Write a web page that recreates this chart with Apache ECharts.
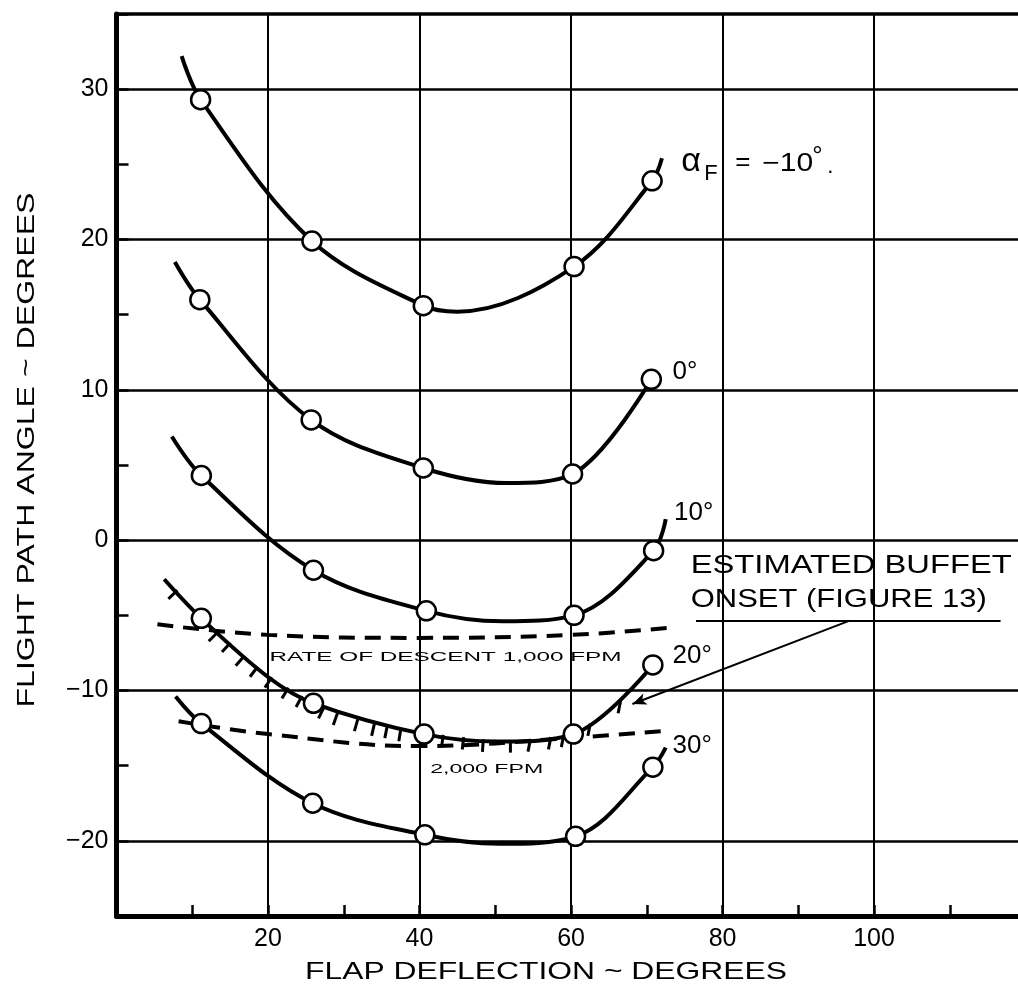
<!DOCTYPE html>
<html>
<head>
<meta charset="utf-8">
<script src="https://cdn.jsdelivr.net/npm/echarts@6/dist/echarts.min.js"></script>
<style>
  html, body { margin: 0; padding: 0; background: #fff; }
  #main { width: 1018px; height: 999px; }
</style>
</head>
<body>
<div id="main"></div>
<script>
// 试验点 (flap deflection, flight path angle)
var ptsM10    = [[11.1, 29.3], [25.8, 19.9], [40.5, 15.6], [60.4, 18.2], [70.7, 23.9]];
var ptsZero   = [[11.0, 16.0], [25.7, 8.0], [40.5, 4.8], [60.2, 4.4], [70.6, 10.7]];
var ptsTen    = [[11.2, 4.3], [26.0, -2.0], [40.9, -4.7], [60.4, -5.0], [70.9, -0.7]];
var ptsTwenty = [[11.2, -5.2], [26.0, -10.85], [40.6, -12.9], [60.3, -12.9], [70.8, -8.3]];
var ptsThirty = [[11.2, -12.2], [25.9, -17.5], [40.7, -19.6], [60.6, -19.7], [70.8, -15.1]];

// faired curves
var curveM10    = [[8.6, 32.2], [11.1, 29.3], [25.8, 19.9], [40.5, 15.6], [45.0, 15.2], [60.4, 18.2], [70.7, 23.9], [72.0, 25.4]];
var curveZero   = [[7.7, 18.5], [11.0, 16.0], [25.7, 8.0], [40.5, 4.8], [51.5, 3.8], [60.2, 4.4], [70.6, 10.7]];
var curveTen    = [[7.3, 6.9], [11.2, 4.3], [26.0, -2.0], [40.9, -4.7], [51.0, -5.4], [60.4, -5.0], [70.9, -0.7], [72.5, 1.4]];
var curveTwenty = [[6.3, -2.6], [11.2, -5.2], [20.0, -9.1], [26.0, -10.85], [40.6, -12.9], [50.5, -13.4], [60.3, -12.9], [70.8, -8.3]];
var curveThirty = [[7.8, -10.4], [11.2, -12.2], [25.9, -17.5], [40.7, -19.6], [50.5, -20.2], [60.6, -19.7], [70.8, -15.1], [72.5, -13.8]];

// rate of descent lines
var descent1000 = [[5.4, -5.6], [20.0, -6.3], [40.0, -6.5], [60.2, -6.3], [73.6, -5.8]];
var descent2000 = [[8.2, -12.05], [20.0, -12.9], [40.0, -13.7], [60.2, -13.15], [72.1, -12.7]];

// buffet onset hatching (points on the 20 deg curve)
var buffetHatch = [[7.9, -3.4], [13.2, -6.2], [14.9, -6.9], [16.7, -7.8], [18.5, -8.5], [20.4, -9.2],
  [22.6, -9.9], [24.4, -10.45], [27.3, -11.2], [29.1, -11.6], [31.8, -12.0], [34.0, -12.3],
  [35.7, -12.45], [37.5, -12.65], [43.1, -13.05], [45.8, -13.2], [48.4, -13.35], [52.0, -13.4],
  [54.6, -13.35], [57.3, -13.2], [59.0, -13.05], [62.5, -12.3], [66.5, -10.8]];

var FONT = '"Liberation Sans", Arial, sans-serif';

var myChart = echarts.init(document.getElementById('main'));

function curve(data) {
  return {
    type: 'line', data: data, smooth: 0.35, showSymbol: false, silent: true,
    lineStyle: { color: '#000', width: 4 }, z: 3
  };
}
function points(data) {
  return {
    type: 'scatter', data: data, symbol: 'circle', symbolSize: 19, silent: true,
    itemStyle: { color: '#fff', borderColor: '#000', borderWidth: 2.5, opacity: 1 }, z: 5
  };
}
function dashed(data) {
  return {
    type: 'line', data: data, smooth: 0.4, showSymbol: false, silent: true,
    lineStyle: { color: '#000', width: 4, type: [16, 10] }, z: 2
  };
}

var twenty = curve(curveTwenty);
twenty.markLine = {
  silent: true, animation: false,
  label: { show: false },
  lineStyle: { color: '#000', width: 2, type: 'solid' },
  data: [
    [{ coord: [76.5, -5.37], symbol: 'none' }, { coord: [116.7, -5.37], symbol: 'none' }],
    [{ coord: [96.7, -5.37], symbol: 'none' }, { coord: [68.1, -10.9], symbol: 'arrow', symbolSize: [9, 14] }]
  ]
};

var option = {
  animation: false,
  backgroundColor: '#fff',
  grid: { left: 116.5, right: 0, top: 14, bottom: 83 },
  xAxis: [{
    type: 'value', min: 0, max: 119, interval: 10,
    axisLine: { show: true, onZero: false, lineStyle: { color: '#000', width: 5 } },
    axisTick: { show: true, inside: true, length: 11, lineStyle: { color: '#000', width: 2.5 } },
    axisLabel: {
      color: '#000', fontSize: 25, fontFamily: FONT, margin: 11, showMaxLabel: false,
      formatter: function (v) { return (v % 20 === 0 && v > 0 && v < 119) ? String(v) : ''; }
    },
    splitLine: { show: true, showMaxLine: false, lineStyle: { color: ['#000', 'transparent'], width: 2 } }
  }, {
    // 上边框
    type: 'value', position: 'top', min: 0, max: 119,
    axisLine: { show: true, onZero: false, lineStyle: { color: '#000', width: 3.5 } },
    axisTick: { show: false }, axisLabel: { show: false }, splitLine: { show: false }
  }],
  yAxis: {
    type: 'value', min: -25, max: 35, interval: 5,
    axisLine: { show: true, onZero: false, lineStyle: { color: '#000', width: 5 } },
    axisTick: { show: true, inside: true, length: 12, lineStyle: { color: '#000', width: 2.5 } },
    axisLabel: {
      color: '#000', fontSize: 25, fontFamily: FONT, margin: 8,
      formatter: function (v) { return v % 10 === 0 ? String(v).replace('-', '\u2212') : ''; }
    },
    splitLine: { show: true, lineStyle: { color: ['transparent', '#000'], width: 2.5 } }
  },
  series: [
    curve(curveM10), curve(curveZero), curve(curveTen), twenty, curve(curveThirty),
    dashed(descent1000), dashed(descent2000),
    {
      type: 'custom', data: buffetHatch, silent: true, z: 3,
      encode: { x: 0, y: 1 },
      renderItem: function (params, api) {
        var i = params.dataIndex;
        var p = api.coord([api.value(0), api.value(1)]);
        var a = api.coord(buffetHatch[Math.max(i - 1, 0)]);
        var b = api.coord(buffetHatch[Math.min(i + 1, buffetHatch.length - 1)]);
        var tx = b[0] - a[0], ty = b[1] - a[1];
        var nx = -ty, ny = tx;
        if (ty < 0) { nx = -2; ny = 10; } // 上升段竖直向下
        var len = Math.sqrt(nx * nx + ny * ny) || 1;
        nx /= len; ny /= len;
        return {
          type: 'line',
          shape: { x1: p[0] - nx * 1.5, y1: p[1] - ny * 1.5, x2: p[0] + nx * 11, y2: p[1] + ny * 11 },
          style: { stroke: '#000', lineWidth: 3 }
        };
      }
    },
    points(ptsM10), points(ptsZero), points(ptsTen), points(ptsTwenty), points(ptsThirty)
  ]
};
myChart.setOption(option);

// 文字标注
var ctx = document.createElement('canvas').getContext('2d');
function fitScale(text, size, w) {
  ctx.font = size + 'px ' + FONT;
  return w / ctx.measureText(text).width;
}
function txt(text, at, size, opts) {
  opts = opts || {};
  var p = myChart.convertToPixel({ gridIndex: 0 }, at);
  var el = {
    type: 'text', x: p[0] + (opts.dx || 0), y: p[1] + (opts.dy || 0), z: 10, silent: true,
    style: { text: text, fontSize: size, fontFamily: FONT, fill: '#000',
      align: opts.align || 'left', verticalAlign: 'middle' }
  };
  if (opts.width) el.scaleX = fitScale(text, size, opts.width);
  return el;
}

var base = [73.5, 25.0];
var graphics = [
  txt('\u03b1', base, 34, { dx: 8, dy: -3 }),
  txt('F', base, 22, { dx: 31, dy: 10 }),
  txt('=', base, 26, { dx: 62, dy: -2 }),
  txt('\u221210', base, 25, { dx: 89, dy: 0, width: 51 }),
  txt('\u00b0', base, 26, { dx: 139, dy: -8 }),
  txt('.', base, 22, { dx: 154, dy: 3 }),
  txt('0\u00b0', [73.4, 11.2], 26),
  txt('10\u00b0', [73.6, 1.8], 26),
  txt('20\u00b0', [73.4, -7.7], 26),
  txt('30\u00b0', [73.4, -13.7], 26),
  txt('ESTIMATED BUFFET', [75.8, -1.7], 25, { width: 321 }),
  txt('ONSET (FIGURE 13)', [75.8, -4.0], 25, { width: 296 }),
  txt('RATE OF DESCENT 1,000 FPM', [20.2, -7.8], 12, { width: 352 }),
  txt('2,000 FPM', [41.4, -15.3], 12, { width: 113 })
];

// 坐标轴标题
var xt = { type: 'text', x: 546, y: 972, silent: true,
  scaleX: fitScale('FLAP DEFLECTION ~ DEGREES', 24, 482),
  style: { text: 'FLAP DEFLECTION ~ DEGREES', fontSize: 24, fontFamily: FONT, fill: '#000', align: 'center', verticalAlign: 'middle' } };
var yt = { type: 'text', x: 27, y: 450, rotation: Math.PI / 2, silent: true,
  scaleX: fitScale('FLIGHT PATH ANGLE ~ DEGREES', 24, 515),
  style: { text: 'FLIGHT PATH ANGLE ~ DEGREES', fontSize: 24, fontFamily: FONT, fill: '#000', align: 'center', verticalAlign: 'middle' } };
graphics.push(xt, yt);

myChart.setOption({ graphic: graphics });
</script>
</body>
</html>
